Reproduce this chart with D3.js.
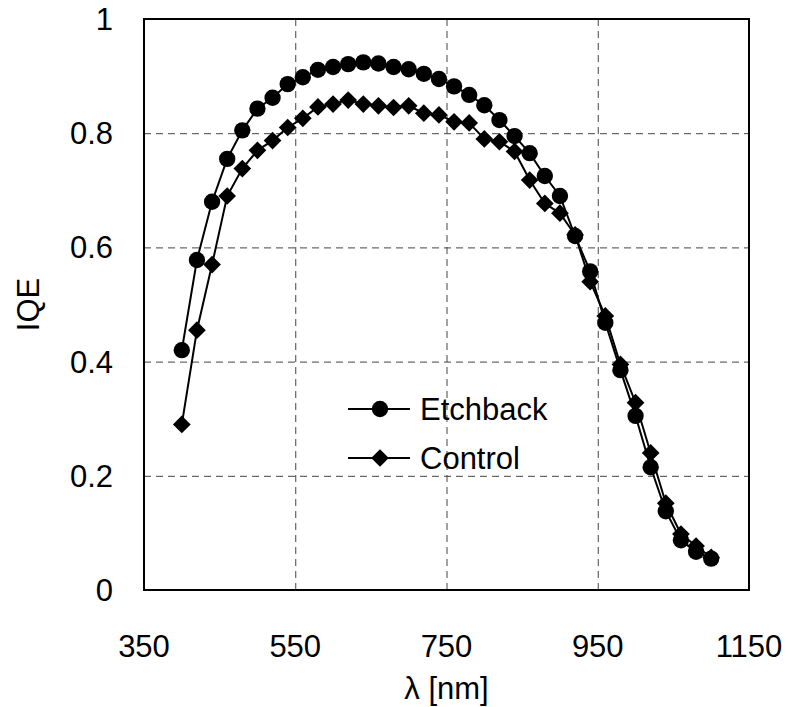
<html>
<head>
<style>
  body { margin: 0; background: #fff; }
  text { font-family: "Liberation Sans", Arial, sans-serif; fill: #000; }
  .grid line { stroke: #444; stroke-dasharray: 7,5; stroke-width: 1; }
  .grid path { display: none; }
</style>
</head>
<body>
<svg width="790" height="707"></svg>
<script src="https://d3js.org/d3.v7.min.js"></script>
<script>
var wavelengths = [400, 420, 440, 460, 480, 500, 520, 540, 560, 580, 600, 620, 640, 660, 680, 700, 720, 740,
                   760, 780, 800, 820, 840, 860, 880, 900, 920, 940, 960, 980, 1000, 1020, 1040, 1060, 1080, 1100];
var etchback = [0.42, 0.578, 0.68, 0.755, 0.805, 0.843, 0.862, 0.886, 0.898, 0.911, 0.916, 0.921, 0.924, 0.922,
                0.916, 0.912, 0.904, 0.895, 0.882, 0.867, 0.849, 0.823, 0.795, 0.765, 0.725, 0.69, 0.62, 0.558,
                0.468, 0.385, 0.305, 0.215, 0.138, 0.087, 0.067, 0.055];
var control = [0.29, 0.455, 0.57, 0.69, 0.738, 0.77, 0.787, 0.81, 0.826, 0.846, 0.851, 0.858, 0.851, 0.848,
               0.845, 0.848, 0.835, 0.832, 0.82, 0.818, 0.79, 0.785, 0.768, 0.718, 0.677, 0.66, 0.622, 0.54,
               0.48, 0.395, 0.328, 0.24, 0.152, 0.098, 0.077, 0.057];
var xTicks = [350, 550, 750, 950, 1150];
var yTicks = [0, 0.2, 0.4, 0.6, 0.8, 1];
var seriesNames = ["Etchback", "Control"];

var svg = d3.select("svg");
var pLeft = 144, pRight = 749, pTop = 19, pBottom = 590;
var fs = 31;

var x = d3.scaleLinear().domain([350, 1150]).range([pLeft, pRight]);
var y = d3.scaleLinear().domain([0, 1]).range([pBottom, pTop]);

// dashed grid
svg.append("g").attr("class", "grid")
    .attr("transform", "translate(0," + pBottom + ")")
    .call(d3.axisBottom(x).tickValues(xTicks.slice(1, -1)).tickSize(-(pBottom - pTop)).tickFormat(""));
svg.append("g").attr("class", "grid")
    .attr("transform", "translate(" + pLeft + ",0)")
    .call(d3.axisLeft(y).tickValues(yTicks.slice(1, -1)).tickSize(-(pRight - pLeft)).tickFormat(""));

// frame
svg.append("rect")
    .attr("x", pLeft).attr("y", pTop)
    .attr("width", pRight - pLeft).attr("height", pBottom - pTop)
    .attr("fill", "none").attr("stroke", "#000").attr("stroke-width", 2);

// tick labels
svg.append("g").selectAll("text").data(xTicks).enter().append("text")
    .attr("x", function(d) { return x(d); })
    .attr("y", 657)
    .attr("text-anchor", "middle")
    .attr("font-size", fs)
    .text(function(d) { return d; });

svg.append("g").selectAll("text").data(yTicks).enter().append("text")
    .attr("x", 113)
    .attr("y", function(d) { return y(d) + 11; })
    .attr("text-anchor", "end")
    .attr("font-size", fs)
    .text(function(d) { return d; });

svg.append("text")
    .attr("x", (pLeft + pRight) / 2).attr("y", 699)
    .attr("text-anchor", "middle").attr("font-size", fs)
    .text("λ [nm]");

svg.append("text")
    .attr("transform", "translate(39," + ((pTop + pBottom) / 2) + ") rotate(-90)")
    .attr("text-anchor", "middle").attr("font-size", fs)
    .text("IQE");

var line = d3.line()
    .x(function(d) { return x(d[0]); })
    .y(function(d) { return y(d[1]); });

var diamond = d3.symbol().type(d3.symbolDiamond2).size(200);
var circle = d3.symbol().type(d3.symbolCircle).size(210);

function drawSeries(vals, sym) {
    var pts = wavelengths.map(function(w, i) { return [w, vals[i]]; });
    svg.append("path").datum(pts)
        .attr("d", line)
        .attr("fill", "none").attr("stroke", "#000").attr("stroke-width", 2);
    svg.append("g").selectAll("path").data(pts).enter().append("path")
        .attr("transform", function(d) { return "translate(" + x(d[0]) + "," + y(d[1]) + ")"; })
        .attr("d", sym)
        .attr("fill", "#000");
}

drawSeries(control, diamond);
drawSeries(etchback, circle);

// legend
var legend = svg.append("g");
var legendRows = [{ name: seriesNames[0], sym: circle, y: 409 }, { name: seriesNames[1], sym: diamond, y: 458 }];
legendRows.forEach(function(r) {
    legend.append("line")
        .attr("x1", 348).attr("x2", 410).attr("y1", r.y).attr("y2", r.y)
        .attr("stroke", "#000").attr("stroke-width", 2);
    legend.append("path")
        .attr("transform", "translate(380," + r.y + ")")
        .attr("d", r.sym).attr("fill", "#000");
    legend.append("text")
        .attr("x", 420).attr("y", r.y + 11)
        .attr("font-size", fs)
        .text(r.name);
});
</script>
</body>
</html>
